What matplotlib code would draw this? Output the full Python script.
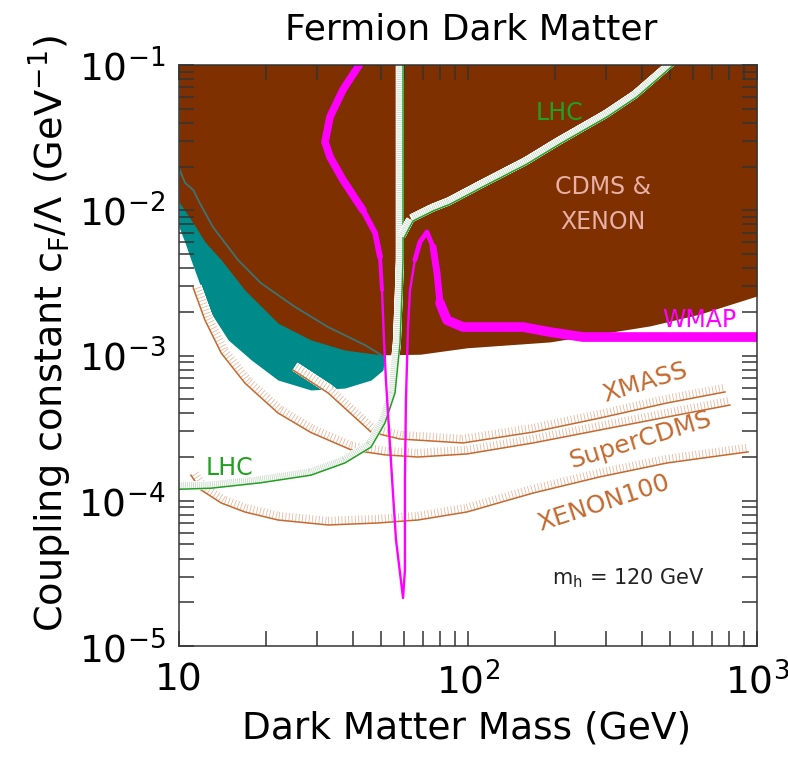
"""
Fermion dark matter: coupling constant limits vs dark matter mass
"""
import numpy as np
import matplotlib
matplotlib.use("Agg")
import matplotlib.pyplot as plt
import matplotlib.patheffects as pe
from matplotlib.ticker import FixedLocator, FixedFormatter, LogLocator, NullFormatter

# --- data (mass in GeV, coupling in GeV^-1) ---

# lower edge of the CDMS & XENON excluded region
excl_mass = [10, 11.2, 12.3, 14.0, 16.9, 22.0, 28.6, 37.5, 50.0, 68.2, 99.2, 192, 427, 635, 1000]
excl_coupling = [1.14e-2, 8.17e-3, 6.05e-3, 4.55e-3, 2.82e-3, 1.67e-3, 1.28e-3, 1.09e-3,
                 1.01e-3, 1.02e-3, 1.13e-3, 1.24e-3, 1.60e-3, 1.93e-3, 2.57e-3]

# lower edge of the teal signal region
signal_mass = [10, 10.5, 11.0, 11.9, 12.9, 14.8, 17.8, 22.0, 28.6, 37.5, 46.2, 50.8, 51.6]
signal_coupling = [7.67e-3, 5.95e-3, 4.55e-3, 2.96e-3, 1.96e-3, 1.28e-3, 9.31e-4, 6.78e-4,
                   5.79e-4, 5.97e-4, 6.78e-4, 7.94e-4, 1.01e-3]

# teal contour line
contour_mass = [10, 10.5, 11.2, 11.8, 13.1, 16.0, 19.2, 25.2, 32.8, 44.0, 50.0]
contour_coupling = [1.95e-2, 1.54e-2, 1.38e-2, 1.12e-2, 7.67e-3, 4.55e-3, 3.15e-3, 2.16e-3,
                    1.57e-3, 1.18e-3, 1.01e-3]

# projected sensitivities
xmass_mass = [24.8, 32.8, 46.2, 58.2, 96.1, 168, 286, 488, 775]
xmass_coupling = [7.94e-4, 5.52e-4, 2.97e-4, 2.66e-4, 2.50e-4, 2.97e-4, 3.71e-4, 4.71e-4, 5.61e-4]

supercdms_mass = [11.2, 12.3, 14.0, 16.9, 22.0, 28.6, 39.4, 51.6, 67.1, 99.2, 168, 286, 488, 806]
supercdms_coupling = [2.92e-3, 1.75e-3, 1.04e-3, 6.46e-4, 4.02e-4, 2.95e-4, 2.24e-4, 2.07e-4,
                      2.00e-4, 2.10e-4, 2.50e-4, 3.07e-4, 3.77e-4, 4.56e-4]

xenon100_mass = [11.0, 11.9, 14.0, 16.9, 22.0, 32.8, 48.8, 67.1, 99.2, 168, 286, 488, 931]
xenon100_coupling = [1.50e-4, 1.19e-4, 9.65e-5, 8.37e-5, 7.37e-5, 6.81e-5, 7.03e-5, 7.37e-5,
                     8.37e-5, 1.13e-4, 1.46e-4, 1.82e-4, 2.17e-4]

# LHC (invisible Higgs width below m_h/2, direct searches above)
lhc_low_mass = [10, 12.9, 19.2, 28.6, 37.5, 46.2, 51.6, 55.9, 58.2, 59.1, 59.6, 59.6]
lhc_low_coupling = [1.20e-4, 1.22e-4, 1.33e-4, 1.50e-4, 1.82e-4, 2.34e-4, 3.43e-4, 5.52e-4,
                    1.22e-3, 2.69e-3, 4.55e-3, 0.1]
lhc_high_mass = [60.2, 64.5, 75.7, 86.7, 112.7, 160, 208, 303, 384, 515]
lhc_high_coupling = [6.5e-3, 8.43e-3, 9.88e-3, 1.10e-2, 1.45e-2, 2.08e-2, 2.86e-2, 4.39e-2,
                     6.02e-2, 0.1]

# WMAP relic density curve
wmap_mass = [42.0, 36.9, 33.3, 32.0, 33.3, 36.9, 43.3, 47.7, 49.6, 50.4, 51.2, 52.0, 53.3,
             55.0, 56.35, 59.6, 60.5, 60.5, 61.0, 62.0, 63.0, 65.5, 68.2, 72.1, 75.7, 78.1,
             80.0, 84.6, 96.1, 112.7, 155, 192, 250, 427, 1000]
wmap_coupling = [0.1, 6.73e-2, 4.39e-2, 2.95e-2, 2.33e-2, 1.62e-2, 1.00e-2, 6.97e-3, 4.77e-3,
                 2.82e-3, 1.28e-3, 6.78e-4, 3.07e-4, 1.13e-4, 5.37e-5, 2.14e-5, 3.34e-5,
                 1.39e-4, 4.94e-4, 1.57e-3, 2.82e-3, 4.55e-3, 6.05e-3, 7.08e-3, 5.58e-3,
                 3.70e-3, 2.30e-3, 1.75e-3, 1.57e-3, 1.57e-3, 1.57e-3, 1.45e-3, 1.34e-3,
                 1.34e-3, 1.34e-3]

x_ticks = [10, 100, 1000]
x_tick_labels = ['10', '$10^{2}$', '$10^{3}$']
y_ticks = [1e-5, 1e-4, 1e-3, 1e-2, 1e-1]
y_tick_labels = ['$10^{-5}$', '$10^{-4}$', '$10^{-3}$', '$10^{-2}$', '$10^{-1}$']

# colours
brown = '#7f3000'
teal = '#008b8b'
teal_line = '#3b7474'
proj_color = '#c46a30'
proj_hatch = '#e6b9a0'
lhc_green = '#22a022'
lhc_hatch = '#c9d9c9'
magenta = '#ff00ff'


def hatched(tick_color, spacing, length, width):
    # white band under a row of short ticks on the left side of the path
    return [pe.TickedStroke(angle=90, spacing=0.6, length=length / 0.6,
                            foreground='white', linewidth=1.2),
            pe.TickedStroke(angle=90, spacing=spacing, length=length / spacing,
                            foreground=tick_color, linewidth=width),
            pe.Normal()]


fig = plt.figure(figsize=(7.88, 7.65), dpi=100)
ax = fig.add_axes([179 / 788, 119 / 765, 578 / 788, 581 / 765])
ax.set_xscale('log')
ax.set_yscale('log')
ax.set_xlim(10, 1000)
ax.set_ylim(1e-5, 1e-1)

# excluded and signal regions
ax.fill_between(signal_mass, signal_coupling, 1.0, color=teal, lw=0, zorder=1)
ax.fill_between(excl_mass, excl_coupling, 1.0, color=brown, lw=0, zorder=1.5)
ax.plot(contour_mass, contour_coupling, color=teal_line, lw=1.3, zorder=2)

# projections
for m, c in [(xmass_mass, xmass_coupling), (supercdms_mass, supercdms_coupling),
             (xenon100_mass, xenon100_coupling)]:
    ax.plot(m, c, color=proj_color, lw=1.1, zorder=3,
            path_effects=hatched(proj_hatch, 2.4, 5.6, 0.6))

# LHC
for m, c in [(lhc_low_mass, lhc_low_coupling), (lhc_high_mass, lhc_high_coupling)]:
    ax.plot(m, c, color=lhc_green, lw=1.1, zorder=4,
            path_effects=hatched(lhc_hatch, 1.4, 4.6, 0.6))

# WMAP: thin everywhere, thicker where the band is wide
ax.plot(wmap_mass, wmap_coupling, color=magenta, lw=1.7, zorder=5, solid_joinstyle='round')
for sl, w in [(slice(0, 7), 5.5), (slice(5, 9), 4.2), (slice(7, 10), 2.8),
              (slice(21, 26), 3.5), (slice(24, 28), 5.0), (slice(26, None), 7.0)]:
    ax.plot(wmap_mass[sl], wmap_coupling[sl], color=magenta, lw=w, zorder=5,
            solid_capstyle='round', solid_joinstyle='round')

# axes styling
for s in ax.spines.values():
    s.set_linewidth(1.1)
    s.set_color('#333333')
    s.set_zorder(6)
ax.xaxis.set_major_locator(FixedLocator(x_ticks))
ax.xaxis.set_major_formatter(FixedFormatter(x_tick_labels))
ax.xaxis.set_minor_locator(LogLocator(base=10, subs=np.arange(2, 10)))
ax.xaxis.set_minor_formatter(NullFormatter())
ax.yaxis.set_major_locator(FixedLocator(y_ticks))
ax.yaxis.set_major_formatter(FixedFormatter(y_tick_labels))
ax.yaxis.set_minor_locator(LogLocator(base=10, subs=np.arange(2, 10)))
ax.yaxis.set_minor_formatter(NullFormatter())
ax.tick_params(which='both', direction='in', top=True, right=True, length=11,
               width=1.1, color='#333333', labelsize=27)
ax.tick_params(axis='x', which='major', pad=12)
ax.tick_params(axis='y', which='major', pad=10)

# annotations
ax.text(0.659, 0.917, 'LHC', color=lhc_green, fontsize=17, transform=ax.transAxes,
        ha='center', va='center', zorder=7)
ax.text(0.088, 0.306, 'LHC', color=lhc_green, fontsize=17, transform=ax.transAxes,
        ha='center', va='center', zorder=7)
ax.text(0.734, 0.790, 'CDMS &', color='#e8b0a6', fontsize=17, transform=ax.transAxes,
        ha='center', va='center', zorder=7)
ax.text(0.734, 0.730, 'XENON', color='#e8b0a6', fontsize=17, transform=ax.transAxes,
        ha='center', va='center', zorder=7)
ax.text(0.900, 0.561, 'WMAP', color=magenta, fontsize=17, transform=ax.transAxes,
        ha='center', va='center', zorder=7)
ax.text(0.806, 0.453, 'XMASS', color=proj_color, fontsize=18, rotation=17,
        transform=ax.transAxes, ha='center', va='center', rotation_mode='anchor', zorder=7)
ax.text(0.799, 0.355, 'SuperCDMS', color=proj_color, fontsize=18, rotation=17,
        transform=ax.transAxes, ha='center', va='center', rotation_mode='anchor', zorder=7)
ax.text(0.734, 0.246, 'XENON100', color=proj_color, fontsize=18, rotation=18,
        transform=ax.transAxes, ha='center', va='center', rotation_mode='anchor', zorder=7)
ax.text(0.777, 0.117, '$\\mathregular{m_h}$ = 120 GeV', color='#222222', fontsize=15,
        transform=ax.transAxes, ha='center', va='center', zorder=7)

fig.text(471 / 788, 1 - 30 / 765, 'Fermion Dark Matter', fontsize=26,
         ha='center', va='center')
fig.text(467 / 788, 1 - 728 / 765, 'Dark Matter Mass (GeV)', fontsize=27,
         ha='center', va='center')
fig.text(50 / 788, 1 - 334 / 765,
         'Coupling constant $\\mathregular{c_F}$/$\\mathregular{\\Lambda}$ (GeV$^{-1}$)',
         fontsize=27.5, rotation=90, ha='center', va='center')

fig.savefig('out.png', dpi=100)
